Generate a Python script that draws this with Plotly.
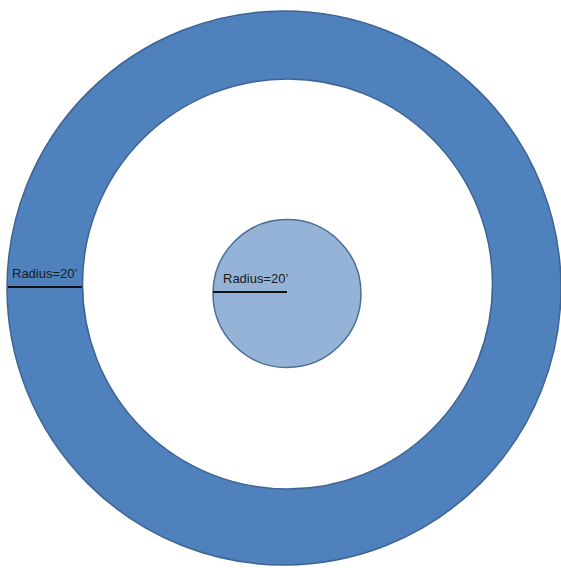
import plotly.graph_objects as go

# Circles: (name, center x, center y, radius, fill, border colour)
circle_names = ["outer ring", "inner lawn", "center pad"]
circle_cx = [284, 287.5, 287]
circle_cy = [288, 284, 293.5]
circle_r = [277, 205, 74]
circle_fill = ["#4F81BD", "#FFFFFF", "#95B3D7"]
circle_line = ["#3E6494", "#3E6494", "#4A6E99"]

# Radius markers
label_texts = ["Radius=20\u2019", "Radius=20\u2019"]
line_x0 = [8, 213]
line_x1 = [82, 287]
line_y = [287, 292]
label_x = [10, 221]
label_y = [273.5, 278]

W, H = 561, 568

fig = go.Figure()
fig.add_trace(go.Scatter(x=[0, W], y=[0, H], mode="markers",
                         marker=dict(opacity=0), hoverinfo="skip", showlegend=False))

shapes = []
for cx, cy, r, fc, lc in zip(circle_cx, circle_cy, circle_r, circle_fill, circle_line):
    shapes.append(dict(type="circle", xref="x", yref="y",
                       x0=cx - r, x1=cx + r, y0=cy - r, y1=cy + r,
                       fillcolor=fc, line=dict(color=lc, width=1.5), layer="above"))
for x0, x1, y in zip(line_x0, line_x1, line_y):
    shapes.append(dict(type="line", xref="x", yref="y", x0=x0, x1=x1, y0=y, y1=y,
                       line=dict(color="#111111", width=2), layer="above"))

annotations = []
for t, x, y in zip(label_texts, label_x, label_y):
    annotations.append(dict(text=t, x=x, y=y, xref="x", yref="y", showarrow=False,
                            xanchor="left", yanchor="middle",
                            font=dict(family="Liberation Sans", size=13, color="#1a1a1a")))

fig.update_layout(
    width=W, height=H,
    margin=dict(l=0, r=0, t=0, b=0),
    paper_bgcolor="white", plot_bgcolor="white",
    xaxis=dict(range=[0, W], visible=False, fixedrange=True),
    yaxis=dict(range=[H, 0], visible=False, fixedrange=True),
    shapes=shapes, annotations=annotations, showlegend=False,
)

fig.write_html("out.html", config={"displayModeBar": False},
               post_script="document.body.style.margin='0';document.body.style.overflow='hidden';")
